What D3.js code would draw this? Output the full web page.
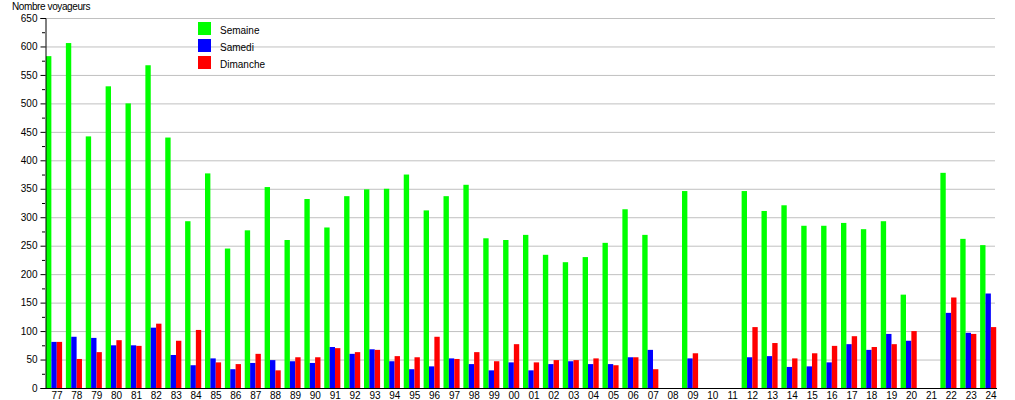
<!DOCTYPE html>
<html lang="fr">
<head>
  <meta charset="UTF-8">
  <title>Nombre voyageurs</title>
  <script src="https://d3js.org/d3.v7.min.js"></script>
  <style>
    body { margin: 0; background: #fff; }
    svg text { font-family: "Liberation Sans", Arial, sans-serif; font-size: 10px; fill: #000; }
  </style>
</head>
<body>
<div id="chart"></div>
<script>
  var years = ['77','78','79','80','81','82','83','84','85','86','87','88','89','90','91','92',
    '93','94','95','96','97','98','99','00','01','02','03','04','05','06','07','08',
    '09','10','11','12','13','14','15','16','17','18','19','20','21','22','23','24'];

  var semaine = [583,606,442,530,500,567,440,293,377,245,277,353,260,332,282,337,
    349,350,375,312,337,357,263,260,269,234,221,230,255,314,269,null,
    346,null,null,346,311,321,285,285,290,279,293,164,null,378,262,251];

  var samedi = [81,90,88,75,75,106,58,40,52,33,44,49,47,44,72,60,
    68,47,33,38,52,42,31,45,31,42,47,42,42,54,67,null,
    52,null,null,54,56,37,38,45,77,67,95,83,null,132,97,166];

  var dimanche = [81,51,63,84,74,113,83,102,45,42,60,31,54,54,70,63,
    67,56,54,90,51,63,47,77,45,49,49,52,40,54,33,null,
    61,null,null,107,79,52,61,74,91,72,77,100,null,159,95,107];

  var yTicks = d3.range(0, 651, 50);
  var series = [
    {name: 'Semaine', values: semaine, color: '#00ff00'},
    {name: 'Samedi', values: samedi, color: '#0000ff'},
    {name: 'Dimanche', values: dimanche, color: '#ff0000'}
  ];

  var W = 1015, H = 400;
  var plotLeft = 46, plotRight = 1000, plotTop = 18, plotBottom = 388;

  var svg = d3.select('#chart').append('svg')
    .attr('width', W)
    .attr('height', H);

  var x = d3.scaleBand().domain(years).range([plotLeft, plotRight]).padding(0);
  var y = d3.scaleLinear().domain([0, 650]).range([plotBottom, plotTop]);
  var bw = x.bandwidth() * 0.27;

  // grid
  svg.append('g').selectAll('line')
    .data(yTicks.filter(function (d) { return d > 0; }))
    .enter().append('line')
    .attr('x1', 45).attr('x2', 995)
    .attr('y1', function (d) { return y(d) + 0.5; })
    .attr('y2', function (d) { return y(d) + 0.5; })
    .attr('stroke', '#c0c0c0')
    .attr('stroke-width', 1);

  // bars
  series.forEach(function (s, k) {
    svg.append('g').selectAll('rect')
      .data(s.values.map(function (v, i) { return {year: years[i], v: v}; })
        .filter(function (d) { return d.v !== null; }))
      .enter().append('rect')
      .attr('x', function (d) { return x(d.year) + k * bw; })
      .attr('width', bw)
      .attr('y', function (d) { return y(d.v); })
      .attr('height', function (d) { return plotBottom - y(d.v); })
      .attr('fill', s.color);
  });

  // y axis
  var yAxis = svg.append('g')
    .attr('transform', 'translate(45.5,0)')
    .call(d3.axisLeft(y).tickValues(yTicks).tickSize(5).tickPadding(3));
  yAxis.select('.domain').attr('stroke', '#000');
  yAxis.selectAll('text').style('font-size', '10px');

  // minor ticks
  svg.append('g').selectAll('line')
    .data(d3.range(25, 650, 50))
    .enter().append('line')
    .attr('x1', 42).attr('x2', 45)
    .attr('y1', function (d) { return y(d) + 0.5; })
    .attr('y2', function (d) { return y(d) + 0.5; })
    .attr('stroke', '#000');

  // x axis
  svg.append('line')
    .attr('x1', 45).attr('x2', 997)
    .attr('y1', plotBottom + 0.5).attr('y2', plotBottom + 0.5)
    .attr('stroke', '#000');

  svg.append('g').selectAll('text')
    .data(years)
    .enter().append('text')
    .attr('x', function (d) { return x(d) + x.bandwidth() / 2 + 1; })
    .attr('y', 399)
    .attr('text-anchor', 'middle')
    .text(function (d) { return d; });

  // title
  svg.append('text')
    .attr('x', 12).attr('y', 10)
    .style('letter-spacing', '-0.4px')
    .text('Nombre voyageurs');

  // legend
  var legend = svg.append('g').selectAll('g')
    .data(series)
    .enter().append('g')
    .attr('transform', function (d, i) { return 'translate(198,' + (22 + i * 17) + ')'; });
  legend.append('rect')
    .attr('width', 13).attr('height', 13)
    .attr('fill', function (d) { return d.color; });
  legend.append('text')
    .attr('x', 22).attr('y', 12)
    .text(function (d) { return d.name; });
</script>
</body>
</html>
